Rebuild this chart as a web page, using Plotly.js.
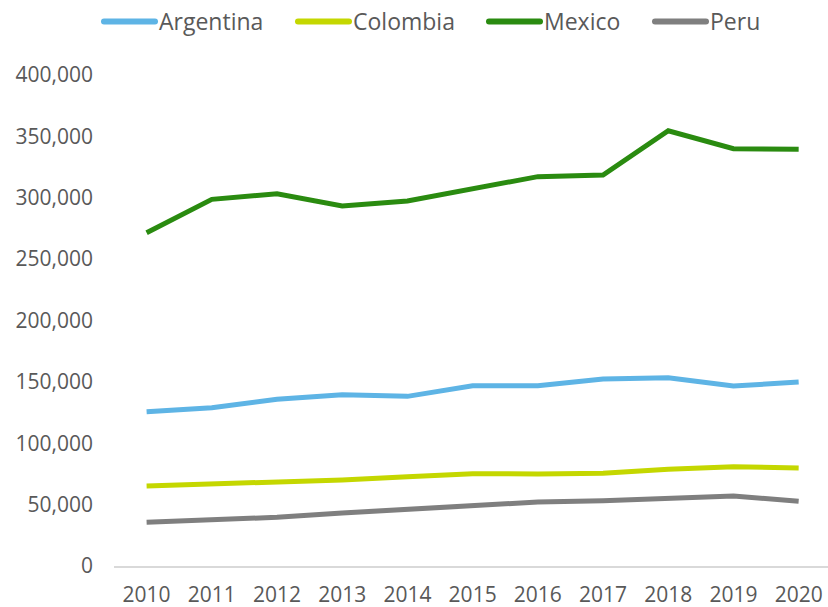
<!DOCTYPE html>
<html>
<head>
<meta charset="utf-8">
<script src="https://cdn.plot.ly/plotly-3.0.1.min.js"></script>
<style>html,body{margin:0;padding:0;background:#fff;}#chart{width:828px;height:607px;}</style>
</head>
<body>
<div id="chart"></div>
<script>
const years = ["2010","2011","2012","2013","2014","2015","2016","2017","2018","2019","2020"];
const argentina = [125700,129000,135800,139600,138200,146900,146900,152300,153400,146600,149900];
const colombia  = [65200,66500,68200,70100,72800,75200,75000,75500,78800,80900,79800];
const mexico    = [271500,298700,303300,293300,297400,307100,317200,318500,354600,340000,339500];
const peru      = [35600,38000,39700,43200,46200,48300,52100,53200,55400,57000,52700];
const yTicks = [0,50000,100000,150000,200000,250000,300000,350000,400000];

// legend entry line start positions (page px) as in the reference
const legendStarts = [104, 298, 489, 655];

const xIdx = years.map((_, i) => i);
function tr(name, vals, color) {
  return {x: xIdx, y: vals, name: name, type: 'scatter', mode: 'lines',
          line: {color: color, width: 5}, hoverinfo: 'x+y'};
}
const data = [
  tr('Argentina', argentina, '#5EB4E5'),
  tr('Colombia', colombia, '#C4D700'),
  tr('Mexico', mexico, '#2A8B10'),
  tr('Peru', peru, '#7F7F7F')
];
const font = {family: '"Open Sans", sans-serif', size: 21, color: '#595959'};
const legFont = {family: '"Open Sans", sans-serif', size: 23, color: '#595959'};
const layout = {
  width: 828, height: 607,
  margin: {l: 114, r: 0, t: 74, b: 41},
  paper_bgcolor: '#fff', plot_bgcolor: '#fff',
  font: font,
  showlegend: true,
  legend: {orientation: 'h', x: 0.444, xanchor: 'center', y: 1.11, yanchor: 'middle',
           font: legFont, itemwidth: 50, tracegroupgap: 0, bgcolor: 'rgba(0,0,0,0)'},
  xaxis: {
    range: [-0.5, 10.45], tickvals: xIdx, ticktext: years,
    showgrid: false, zeroline: false, showline: true, linecolor: '#D9D9D9', linewidth: 1.5,
    ticks: '', ticklabelstandoff: 9, tickfont: font, fixedrange: true
  },
  yaxis: {
    range: [0, 400000], tickvals: yTicks, tickformat: ',d',
    showgrid: false, zeroline: false, showline: false,
    ticks: '', ticklabelstandoff: 20, tickfont: font, fixedrange: true
  }
};
Plotly.newPlot('chart', data, layout, {displayModeBar: false, staticPlot: true}).then(function (gd) {
  const leg = gd.querySelector('.legend');
  if (leg) {
    leg.removeAttribute('clip-path');
    leg.querySelectorAll('[clip-path]').forEach(function (el) { el.removeAttribute('clip-path'); });
  }
  const groups = gd.querySelectorAll('.legend g.traces');
  groups.forEach(function (g, i) {
    const p = g.querySelector('.legendlines path');
    if (!p) return;
    p.setAttribute('d', 'M5,0h51');
    p.style.strokeLinecap = 'round';
    p.style.strokeWidth = '6px';
    const left = p.getBoundingClientRect().left;
    const shift = legendStarts[i] - left;
    const t = g.getAttribute('transform') || 'translate(0,0)';
    const m = t.match(/translate\(\s*([-\d.eE]+)[ ,]\s*([-\d.eE]+)\s*\)/);
    const tx = m ? parseFloat(m[1]) : 0;
    const ty = m ? parseFloat(m[2]) : 0;
    g.setAttribute('transform', 'translate(' + (tx + shift) + ',' + ty + ')');
  });
});
</script>
</body>
</html>
